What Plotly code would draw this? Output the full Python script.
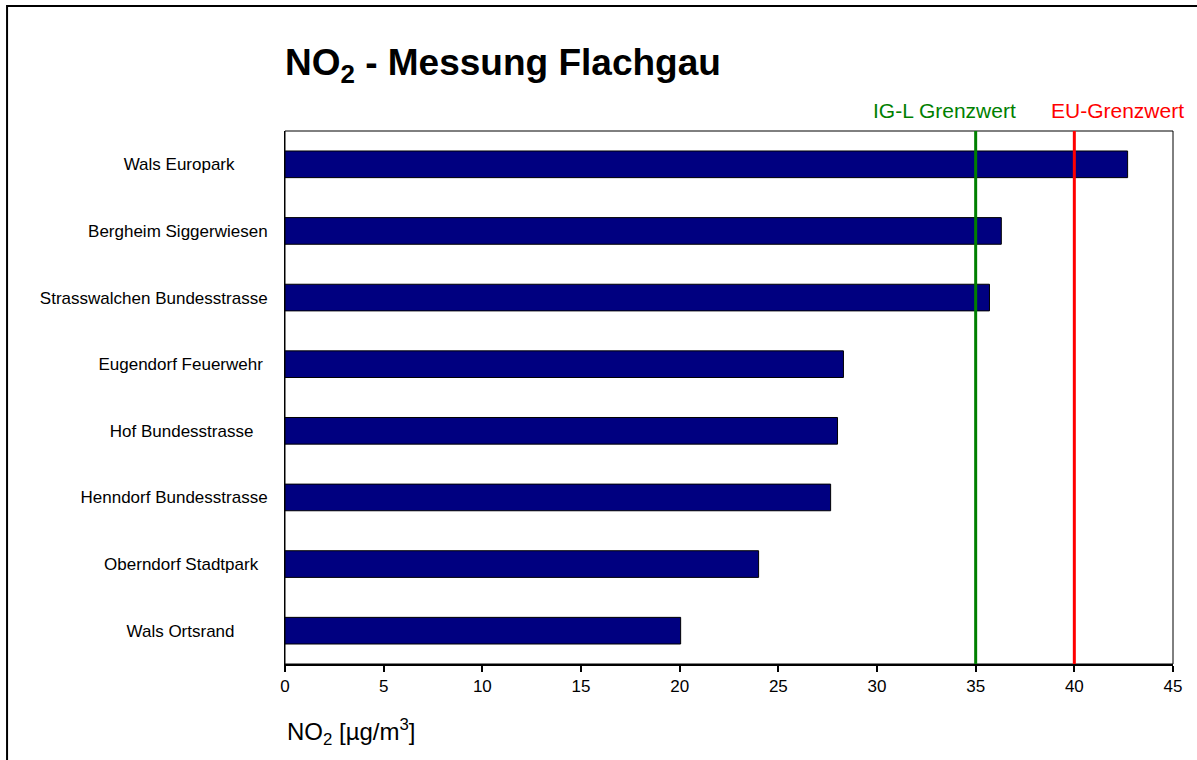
import plotly.graph_objects as go

stations = ["Wals Europark", "Bergheim Siggerwiesen", "Strasswalchen Bundesstrasse",
            "Eugendorf Feuerwehr", "Hof Bundesstrasse", "Henndorf Bundesstrasse",
            "Oberndorf Stadtpark", "Wals Ortsrand"]
no2_values = [42.7, 36.3, 35.7, 28.3, 28.0, 27.65, 24.0, 20.05]
label_pad = [7, 0, 0, 1, 3, 0, 2, 7]  # trailing spaces as in the original labels
x_ticks = [0, 5, 10, 15, 20, 25, 30, 35, 40, 45]
limits = [35, 40]
limit_labels = ["IG-L Grenzwert", "EU-Grenzwert"]
limit_colors = ["#008000", "#FF0000"]
limit_shift = [-31, 43]

FONT = "Liberation Sans, Arial, sans-serif"

tick_text = [s + "\u00a0" * p for s, p in zip(stations, label_pad)]

fig = go.Figure()
fig.add_trace(go.Bar(
    x=no2_values, y=stations, orientation="h", width=0.4,
    marker=dict(color="#000080", line=dict(color="black", width=1)),
    hoverinfo="x+y", showlegend=False,
))

shapes = []
annotations = []
for v, lab, col, sh in zip(limits, limit_labels, limit_colors, limit_shift):
    shapes.append(dict(type="line", xref="x", yref="paper", x0=v, x1=v, y0=0, y1=1,
                       line=dict(color=col, width=3), layer="above"))
    annotations.append(dict(text=lab, xref="x", yref="paper", x=v, y=1, xshift=sh, yshift=21,
                            showarrow=False, xanchor="center", yanchor="middle",
                            font=dict(family=FONT, size=21, color=col)))

# plot area frame
shapes.append(dict(type="rect", xref="paper", yref="paper", x0=0, x1=1, y0=0, y1=1,
                   line=dict(color="black", width=1), layer="below"))
# outer chart border
shapes.append(dict(type="rect", xref="paper", yref="paper", x0=-0.313, x1=1.1, y0=-0.25, y1=1.2345,
                   line=dict(color="black", width=2), layer="below"))

annotations.append(dict(text="NO<sub>2</sub> [µg/m<sup>3</sup>]", xref="paper", yref="paper",
                        x=0, y=0, xanchor="left", yanchor="middle", yshift=-68, showarrow=False,
                        font=dict(family=FONT, size=24, color="black")))

fig.update_layout(
    width=1197, height=760,
    margin=dict(l=285, r=24, t=131, b=96),
    paper_bgcolor="white", plot_bgcolor="white",
    title=dict(text="<b>NO<sub>2</sub> - Messung Flachgau</b>", x=285 / 1197, xanchor="left",
               y=1 - 62 / 760, yanchor="middle", yref="container",
               font=dict(family=FONT, size=37, color="black")),
    xaxis=dict(range=[0, 45], tickvals=x_ticks, showgrid=False, zeroline=False,
               showline=True, linecolor="black", linewidth=2,
               ticks="outside", ticklen=6, tickwidth=2, tickcolor="black",
               tickfont=dict(family=FONT, size=17, color="black")),
    yaxis=dict(autorange="reversed", showgrid=False, zeroline=False,
               showline=True, linecolor="black", linewidth=1,
               tickmode="array", tickvals=stations, ticktext=tick_text,
               ticks="", ticklabelstandoff=13,
               tickfont=dict(family=FONT, size=17, color="black")),
    shapes=shapes, annotations=annotations,
    bargap=0.6,
)

fig.write_html("out.html")
